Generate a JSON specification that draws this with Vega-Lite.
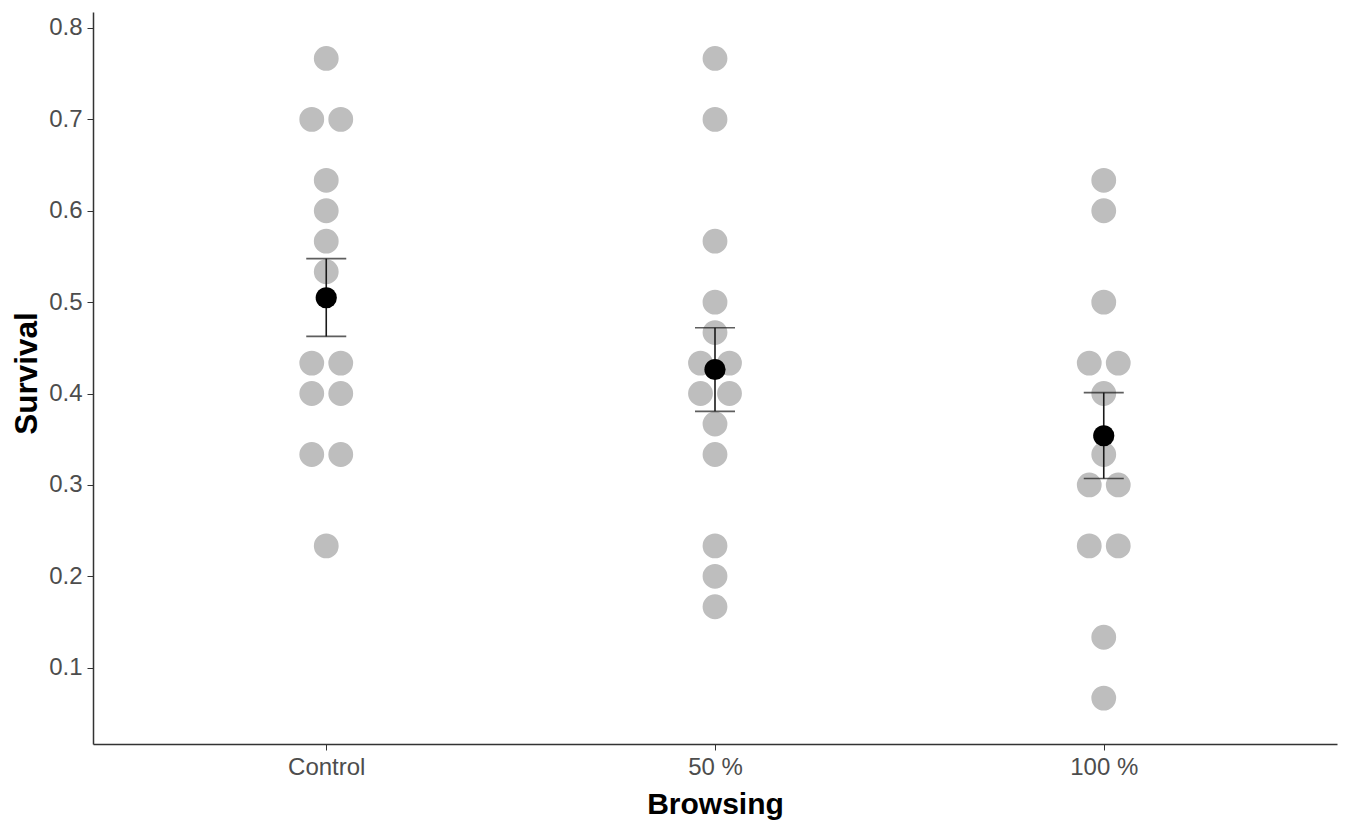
{
  "$schema": "https://vega.github.io/schema/vega-lite/v6.json",
  "width": 1244,
  "height": 732,
  "autosize": {"type": "none"},
  "padding": {"left": 93, "top": 12, "right": 13, "bottom": 85},
  "background": "white",
  "config": {
    "view": {"stroke": null},
    "font": "Liberation Sans",
    "axis": {
      "grid": false,
      "domainColor": "#333333",
      "domainWidth": 1.5,
      "tickColor": "#333333",
      "tickWidth": 1,
      "tickSize": 6,
      "labelColor": "#4d4d4d",
      "labelFont": "Liberation Sans",
      "labelFontSize": 24,
      "labelPadding": 5,
      "titleFont": "Liberation Sans",
      "titleFontWeight": "bold",
      "titleFontSize": 30,
      "titleColor": "black"
    }
  },
  "datasets": {
    "obs": [
      {"Browsing": "Control", "Survival": 0.7667, "off": 0},
      {"Browsing": "Control", "Survival": 0.7, "off": -1},
      {"Browsing": "Control", "Survival": 0.7, "off": 1},
      {"Browsing": "Control", "Survival": 0.6333, "off": 0},
      {"Browsing": "Control", "Survival": 0.6, "off": 0},
      {"Browsing": "Control", "Survival": 0.5667, "off": 0},
      {"Browsing": "Control", "Survival": 0.5333, "off": 0},
      {"Browsing": "Control", "Survival": 0.4333, "off": -1},
      {"Browsing": "Control", "Survival": 0.4333, "off": 1},
      {"Browsing": "Control", "Survival": 0.4, "off": -1},
      {"Browsing": "Control", "Survival": 0.4, "off": 1},
      {"Browsing": "Control", "Survival": 0.3333, "off": -1},
      {"Browsing": "Control", "Survival": 0.3333, "off": 1},
      {"Browsing": "Control", "Survival": 0.2333, "off": 0},
      {"Browsing": "50 %", "Survival": 0.7667, "off": 0},
      {"Browsing": "50 %", "Survival": 0.7, "off": 0},
      {"Browsing": "50 %", "Survival": 0.5667, "off": 0},
      {"Browsing": "50 %", "Survival": 0.5, "off": 0},
      {"Browsing": "50 %", "Survival": 0.4667, "off": 0},
      {"Browsing": "50 %", "Survival": 0.4333, "off": -1},
      {"Browsing": "50 %", "Survival": 0.4333, "off": 1},
      {"Browsing": "50 %", "Survival": 0.4, "off": -1},
      {"Browsing": "50 %", "Survival": 0.4, "off": 1},
      {"Browsing": "50 %", "Survival": 0.3667, "off": 0},
      {"Browsing": "50 %", "Survival": 0.3333, "off": 0},
      {"Browsing": "50 %", "Survival": 0.2333, "off": 0},
      {"Browsing": "50 %", "Survival": 0.2, "off": 0},
      {"Browsing": "50 %", "Survival": 0.1667, "off": 0},
      {"Browsing": "100 %", "Survival": 0.6333, "off": 0},
      {"Browsing": "100 %", "Survival": 0.6, "off": 0},
      {"Browsing": "100 %", "Survival": 0.5, "off": 0},
      {"Browsing": "100 %", "Survival": 0.4333, "off": -1},
      {"Browsing": "100 %", "Survival": 0.4333, "off": 1},
      {"Browsing": "100 %", "Survival": 0.4, "off": 0},
      {"Browsing": "100 %", "Survival": 0.3333, "off": 0},
      {"Browsing": "100 %", "Survival": 0.3, "off": -1},
      {"Browsing": "100 %", "Survival": 0.3, "off": 1},
      {"Browsing": "100 %", "Survival": 0.2333, "off": -1},
      {"Browsing": "100 %", "Survival": 0.2333, "off": 1},
      {"Browsing": "100 %", "Survival": 0.1333, "off": 0},
      {"Browsing": "100 %", "Survival": 0.0667, "off": 0}
    ],
    "summary": [
      {"Browsing": "Control", "mean": 0.5048, "lower": 0.4625, "upper": 0.5476},
      {"Browsing": "50 %", "mean": 0.4263, "lower": 0.3805, "upper": 0.472},
      {"Browsing": "100 %", "mean": 0.3538, "lower": 0.307, "upper": 0.401}
    ]
  },
  "encoding": {
    "x": {
      "field": "Browsing",
      "type": "nominal",
      "sort": ["Control", "50 %", "100 %"],
      "scale": {"type": "point", "padding": 0.6},
      "axis": {"labelAngle": 0, "titleY": 69, "titleBaseline": "alphabetic"}
    }
  },
  "layer": [
    {
      "data": {"name": "obs"},
      "mark": {"type": "circle", "color": "#bebebe", "opacity": 1, "size": 616},
      "encoding": {
        "y": {
          "field": "Survival",
          "type": "quantitative",
          "scale": {"domain": [0.0165, 0.8175], "nice": false, "zero": false},
          "axis": {
            "values": [0.1, 0.2, 0.3, 0.4, 0.5, 0.6, 0.7, 0.8],
            "format": ".1f",
            "title": "Survival",
            "titleFontSize": 31.5,
            "titleX": -66,
            "titleY": 361,
            "titleBaseline": "middle"
          }
        },
        "xOffset": {
          "field": "off",
          "type": "quantitative",
          "scale": {"domain": [-1, 1], "range": [-14.5, 14.5]}
        }
      }
    },
    {
      "data": {"name": "summary"},
      "mark": {"type": "rule", "color": "#1a1a1a", "strokeWidth": 1.6},
      "encoding": {
        "y": {"field": "lower", "type": "quantitative"},
        "y2": {"field": "upper"}
      }
    },
    {
      "data": {"name": "summary"},
      "mark": {"type": "tick", "color": "#1a1a1a", "thickness": 1.6, "size": 40},
      "encoding": {
        "y": {"field": "lower", "type": "quantitative"}
      }
    },
    {
      "data": {"name": "summary"},
      "mark": {"type": "tick", "color": "#1a1a1a", "thickness": 1.6, "size": 40},
      "encoding": {
        "y": {"field": "upper", "type": "quantitative"}
      }
    },
    {
      "data": {"name": "summary"},
      "mark": {"type": "circle", "color": "black", "opacity": 1, "size": 450},
      "encoding": {
        "y": {"field": "mean", "type": "quantitative"}
      }
    }
  ]
}
